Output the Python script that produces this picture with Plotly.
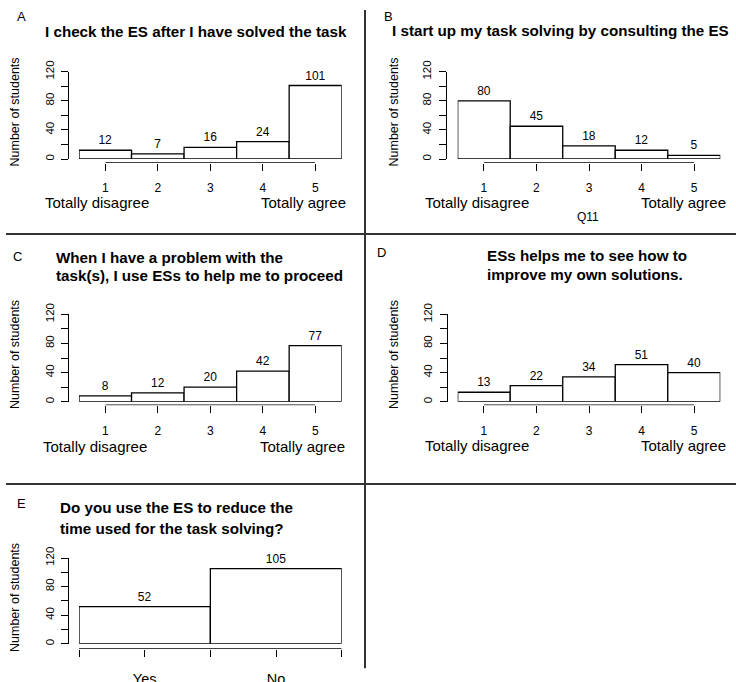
import plotly.graph_objects as go

W, H = 736, 682

# ---------------- data ----------------
likert_levels = [1, 2, 3, 4, 5]
likert_tick_labels = ["1", "2", "3", "4", "5"]
counts_A = [12, 7, 16, 24, 101]
counts_B = [80, 45, 18, 12, 5]
counts_C = [8, 12, 20, 42, 77]
counts_D = [13, 22, 34, 51, 40]
yesno_positions = [0.5, 1.5]
yesno_tick_positions = [0, 0.5, 1, 1.5, 2]
yesno_tick_labels = ["", "Yes", "", "No", ""]
counts_E = [52, 105]
y_tick_values = [0, 20, 40, 60, 80, 100, 120]
y_tick_labels = ["0", "", "40", "", "80", "", "120"]

titles_A = ["I check the ES after I have solved the task"]
titles_B = ["I start up my task solving by consulting the ES"]
titles_C = ["When I have a problem with the", "task(s), I use ESs to help me to proceed"]
titles_D = ["ESs helps me to see how to", "improve my own solutions."]
titles_E = ["Do you use the ES to reduce the", "time used for the task solving?"]
panel_letters = ["A", "B", "C", "D", "E"]
y_label = "Number of students"
low_label = "Totally disagree"
high_label = "Totally agree"
xlab_B = "Q11"

FONT = "Liberation Sans, Arial, sans-serif"


def fx(px):
    return px / W


def fy(py):
    return 1 - py / H


# panel geometry in pixels
panels = [
    dict(x=likert_levels, y=counts_A, tickvals=likert_levels, ticktext=likert_tick_labels,
         xrange=[0.5, 5.5], trange=[1, 5], bx=(79, 341.7), tx=(105.3, 315.3),
         yax=68.3, y0=159, y120=71.7, xline=162.7, tickfs=12, standoff=7),
    dict(x=likert_levels, y=counts_B, tickvals=likert_levels, ticktext=likert_tick_labels,
         xrange=[0.5, 5.5], trange=[1, 5], bx=(457.7, 720.3), tx=(483.9, 694.1),
         yax=446, y0=159, y120=71.7, xline=162.7, tickfs=12, standoff=7),
    dict(x=likert_levels, y=counts_C, tickvals=likert_levels, ticktext=likert_tick_labels,
         xrange=[0.5, 5.5], trange=[1, 5], bx=(79, 341.7), tx=(105.3, 315.3),
         yax=68.3, y0=401.7, y120=314.3, xline=405.2, tickfs=12, standoff=7),
    dict(x=likert_levels, y=counts_D, tickvals=likert_levels, ticktext=likert_tick_labels,
         xrange=[0.5, 5.5], trange=[1, 5], bx=(457.7, 720.3), tx=(483.9, 694.1),
         yax=447, y0=401.7, y120=314.3, xline=405.2, tickfs=12, standoff=7),
    dict(x=yesno_positions, y=counts_E, tickvals=yesno_tick_positions, ticktext=yesno_tick_labels,
         xrange=[0, 2], trange=[0, 2], bx=(79, 341.7), tx=(79, 341.7),
         yax=68.3, y0=643.7, y120=558, xline=648.7, tickfs=14.5, standoff=10),
]

fig = go.Figure()
layout = dict(
    width=W, height=H, margin=dict(l=0, r=0, t=0, b=0, pad=0, autoexpand=False),
    paper_bgcolor="white", plot_bgcolor="rgba(0,0,0,0)",
    showlegend=False, font=dict(family=FONT, color="black"),
)
shapes = []

NP = len(panels)
for i, p in enumerate(panels):
    n = i + 1
    xb, xt, ya, yh = 2 * n - 1, 2 * n, n, NP + n
    fig.add_trace(go.Bar(
        x=p["x"], y=p["y"], width=1, xaxis=f"x{xb}", yaxis=f"y{ya}",
        marker=dict(color="white", line=dict(color="black", width=1.3)),
        text=[str(v) for v in p["y"]], textposition="outside",
        textfont=dict(size=12, family=FONT, color="black"),
        cliponaxis=False, hoverinfo="skip",
    ))
    # R-style axis line: runs from the first to the last tick of the tick axis
    fig.add_trace(go.Scatter(
        x=[p["tickvals"][0], p["tickvals"][-1]], y=[0, 0], xaxis=f"x{xt}", yaxis=f"y{yh}",
        mode="lines", line=dict(color="black", width=1.3), cliponaxis=False,
        hoverinfo="skip",
    ))
    layout[f"xaxis{xb}"] = dict(
        domain=[fx(p["bx"][0]), fx(p["bx"][1])], range=p["xrange"],
        anchor=f"y{ya}", visible=False, fixedrange=True, automargin=False,
    )
    layout[f"yaxis{yh}"] = dict(
        domain=[fy(p["xline"]), fy(p["y120"])], range=[0, 120],
        anchor=f"x{xt}", visible=False, fixedrange=True, automargin=False,
    )
    layout[f"xaxis{xt}"] = dict(
        domain=[fx(p["tx"][0]), fx(p["tx"][1])], range=p["trange"],
        anchor=f"y{yh}", side="bottom", showline=False,
        ticks="outside", ticklen=7, tickwidth=1.3, tickcolor="black",
        tickvals=p["tickvals"], ticktext=p["ticktext"], showgrid=False, zeroline=False,
        tickfont=dict(size=p["tickfs"], family=FONT), ticklabelstandoff=p["standoff"],
        fixedrange=True, automargin=False,
    )
    layout[f"yaxis{ya}"] = dict(
        domain=[fy(p["y0"]), fy(p["y120"])], range=[0, 120],
        anchor="free", position=fx(p["yax"]), showline=True, linecolor="black",
        linewidth=1.3, ticks="outside", ticklen=7, tickwidth=1.3, tickcolor="black",
        tickvals=y_tick_values, ticktext=y_tick_labels, tickangle=-90,
        showgrid=False, zeroline=False, tickfont=dict(size=11.5, family=FONT),
        ticklabelstandoff=3, fixedrange=True, automargin=False,
    )

annotations = []


def ann(text, x, y, size, xanchor="center", bold=False, angle=0):
    annotations.append(dict(
        text=f"<b>{text}</b>" if bold else text, x=fx(x), y=fy(y), xref="paper", yref="paper",
        xanchor=xanchor, yanchor="middle", showarrow=False, textangle=angle,
        font=dict(size=size, family=FONT, color="black"),
    ))


# panel letters
for letter, (lx, ly) in zip(panel_letters, [(21.7, 17), (388, 17), (17, 256.5), (381, 252), (21.7, 503)]):
    ann(letter, lx, ly, 13)

# titles
ann(titles_A[0], 195.5, 32, 15.2, bold=True)
ann(titles_B[0], 560, 31, 15.2, bold=True)
for t, yy in zip(titles_C, [257, 275]):
    ann(t, 54.3, yy, 15.2, xanchor="left", bold=True)
for t, yy in zip(titles_D, [255.7, 274.3]):
    ann(t, 485, yy, 15.2, xanchor="left", bold=True)
for t, yy in zip(titles_E, [507.3, 528]):
    ann(t, 58.3, yy, 15.2, xanchor="left", bold=True)

# y labels
for (yx, yy) in [(15, 112.5), (394, 112.5), (15, 355), (394, 355), (15, 598)]:
    ann(y_label, yx, yy, 12.5, angle=-90)

# scale end labels
for (lx, rx, yy) in [(43, 348, 203), (422.7, 727.7, 203), (41, 346.7, 446.7), (422.7, 727.7, 445.7)]:
    ann(low_label, lx, yy, 15, xanchor="left")
    ann(high_label, rx, yy, 15, xanchor="right")

ann(xlab_B, 587.7, 216.7, 12)

layout["annotations"] = annotations

# panel dividers
line_style = dict(color="#333333", width=2)
shapes += [
    dict(type="line", xref="paper", yref="paper", x0=fx(365), x1=fx(365), y0=fy(10), y1=fy(668.3), line=line_style),
    dict(type="line", xref="paper", yref="paper", x0=fx(6), x1=1, y0=fy(234), y1=fy(234), line=line_style),
    dict(type="line", xref="paper", yref="paper", x0=fx(6), x1=1, y0=fy(484), y1=fy(484), line=line_style),
]
layout["shapes"] = shapes

fig.update_layout(**layout)
fig.write_html("out.html")
